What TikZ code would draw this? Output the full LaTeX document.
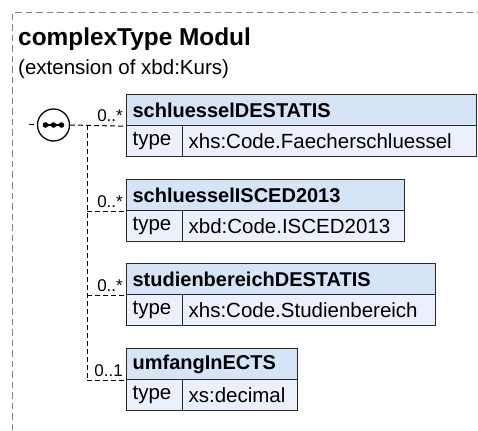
\documentclass[tikz,border=0pt]{standalone}
\usepackage{fontspec}
\setmainfont{Liberation Sans}
\definecolor{hdrblue}{RGB}{214,228,248}
\definecolor{rowblue}{RGB}{234,241,252}
\definecolor{frame}{RGB}{40,40,40}
\tikzset{
  every node/.style={inner sep=0pt},
  hdr/.style={draw=frame, line width=1.2pt, fill=hdrblue, minimum height=31pt, anchor=north west, align=left, inner xsep=6pt,
     font=\fontsize{20}{24}\selectfont\bfseries},
  cell/.style={draw=frame, line width=1.2pt, fill=rowblue, minimum height=31pt, anchor=north west, align=left, inner xsep=6pt,
     font=\fontsize{20.5}{24}\selectfont},
  mult/.style={anchor=base east, font=\fontsize{17}{20}\selectfont},
  conn/.style={draw=black, line width=1pt, dash pattern=on 5pt off 3pt},
  outer/.style={draw=black!50, line width=1pt, line cap=butt, dash pattern=on 6.5pt off 4pt},
}
\begin{document}
\begin{tikzpicture}[x=1pt,y=-1pt]
\fill[white] (0,0) rectangle (478,430);
\useasboundingbox (0,0) rectangle (478,430);
\coordinate (c0) at (12,13);
\coordinate (c1) at (478,13);
\coordinate (c2) at (12,430);
\draw[outer] (c2) -- (c0) -- (c1);
\node[anchor=base west, font=\fontsize{24.4}{28}\selectfont\bfseries] (title) at (18,46) {complexType Modul};
\node[anchor=base west, font=\fontsize{20.5}{24}\selectfont] (sub) at (18,75) {(extension of xbd:Kurs)};

% sequence compositor
\node[circle, draw=black, line width=1.3pt, fill=white, minimum size=32pt] (seq) at (53.5,125) {};
\fill (45.5,125) circle (2.8pt) (53.5,125) circle (2.8pt) (61.5,125) circle (2.8pt);
\draw[line width=1.3pt] (45.5,125) -- (61.5,125);
\coordinate (in) at (29,125);

% element 1
\node[hdr, text width=338pt] (h1) at (126,94) {schluesselDESTATIS};
\node[cell, text width=44pt] (k1) at (126,125) {type};
\node[cell, text width=282pt] (v1) at (182,125) {xhs:Code.Faecherschluessel};
% element 2
\node[hdr, text width=266pt] (h2) at (126,179) {schluesselISCED2013};
\node[cell, text width=44pt] (k2) at (126,210) {type};
\node[cell, text width=210pt] (v2) at (182,210) {xbd:Code.ISCED2013};
% element 3
\node[hdr, text width=297pt] (h3) at (126,263) {studienbereichDESTATIS};
\node[cell, text width=44pt] (k3) at (126,294) {type};
\node[cell, text width=241pt] (v3) at (182,294) {xhs:Code.Studienbereich};
% element 4
\node[hdr, text width=159pt] (h4) at (126,348) {umfangInECTS};
\node[cell, text width=44pt] (k4) at (126,379) {type};
\node[cell, text width=103pt] (v4) at (182,379) {xs:decimal};

% connectors
\draw[conn] (in) -- (seq.west);
\coordinate (j) at (87,125);
\draw[conn] (seq.east) -- (h1.south west);
\draw[conn] (j) -- (j |- h4.south west);
\draw[conn] (j |- h2.south west) -- (h2.south west);
\draw[conn] (j |- h3.south west) -- (h3.south west);
\draw[conn] (j |- h4.south west) -- (h4.south west);

\node[mult] (m1) at (123,122) {0..*};
\node[mult] (m2) at (123,207) {0..*};
\node[mult] (m3) at (123,291) {0..*};
\node[mult] (m4) at (123,376) {0..1};
\end{tikzpicture}
\end{document}
